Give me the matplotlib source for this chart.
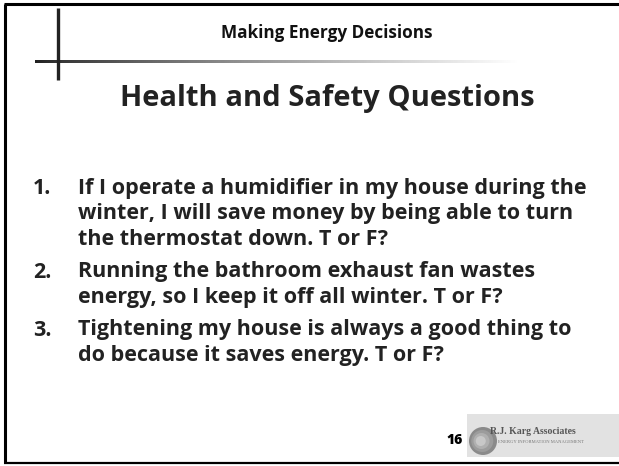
import matplotlib
matplotlib.use('Agg')
import matplotlib.pyplot as plt
import numpy as np
from matplotlib.patches import Rectangle, Circle

HEADER = 'Making Energy Decisions'
TITLE = 'Health and Safety Questions'
NUMBERS = ['1.', '2.', '3.']
QUESTIONS = [
    ['If I operate a humidifier in my house during the',
     'winter, I will save money by being able to turn',
     'the thermostat down. T or F?'],
    ['Running the bathroom exhaust fan wastes',
     'energy, so I keep it off all winter. T or F?'],
    ['Tightening my house is always a good thing to',
     'do because it saves energy. T or F?'],
]
PAGE = '16'
LOGO_NAME = 'R.J. Karg Associates'
LOGO_SUB = 'ENERGY INFORMATION MANAGEMENT'

W, H = 619, 466
FONT = 'Open Sans'

fig = plt.figure(figsize=(W / 100, H / 100), dpi=100)
ax = fig.add_axes([0, 0, 1, 1])
ax.set_xlim(0, W)
ax.set_ylim(H, 0)
ax.axis('off')

# slide frame (no right edge visible)
ax.plot([5, 5], [4, 463], color='black', lw=2.2, solid_capstyle='butt')
ax.plot([4, W], [4, 4], color='black', lw=2.2, solid_capstyle='butt')
ax.plot([4, W], [463, 463], color='black', lw=1.6, solid_capstyle='butt')

# decorative cross: vertical dark bar and fading horizontal bar
ax.plot([57.5, 57.5], [8, 80], color='#222222', lw=2.4, solid_capstyle='butt')
grad = np.linspace(0, 1, 256).reshape(1, -1) ** 0.8
ax.imshow(grad, cmap='gray', vmin=-0.15, vmax=1.0, aspect='auto',
          extent=(35, 520, 63.5, 60.5), interpolation='bilinear', zorder=1)
ax.set_xlim(0, W)
ax.set_ylim(H, 0)

ax.text(327, 38, HEADER, ha='center', va='baseline', fontsize=12.3,
        fontweight='bold', family=FONT, color='#111111')
ax.text(327, 106, TITLE, ha='center', va='baseline', fontsize=21,
        fontweight='bold', family=FONT, color='#222222')

# questions
y = 194
for num, lines in zip(NUMBERS, QUESTIONS):
    ax.text(33, y, num, ha='left', va='baseline', fontsize=15.5,
            fontweight='bold', family=FONT, color='#222222')
    for line in lines:
        ax.text(78, y, line, ha='left', va='baseline', fontsize=15.5,
                fontweight='bold', family=FONT, color='#222222')
        y += 25.5
    y += 7

# footer: page number and logo
ax.text(455, 444, PAGE, ha='center', va='baseline', fontsize=10,
        fontweight='heavy', family=FONT, color='black')
ax.add_patch(Rectangle((467, 414), W - 467, 43, facecolor='#e2e2e2',
                       edgecolor='none'))
for r, c in zip([14, 11, 8, 5], ['#8a8a8a', '#9c9c9c', '#b0b0b0', '#c8c8c8']):
    ax.add_patch(Circle((483 - (14 - r) * 0.25, 441), r, facecolor=c,
                        edgecolor='none'))
ax.text(490, 431, LOGO_NAME, ha='left', va='center', fontsize=7,
        family='Liberation Serif', fontweight='bold', color='#555555')
ax.text(498, 442, LOGO_SUB, ha='left', va='center', fontsize=3.3,
        family='Liberation Serif', color='#777777')

fig.savefig('out.png', dpi=100)
